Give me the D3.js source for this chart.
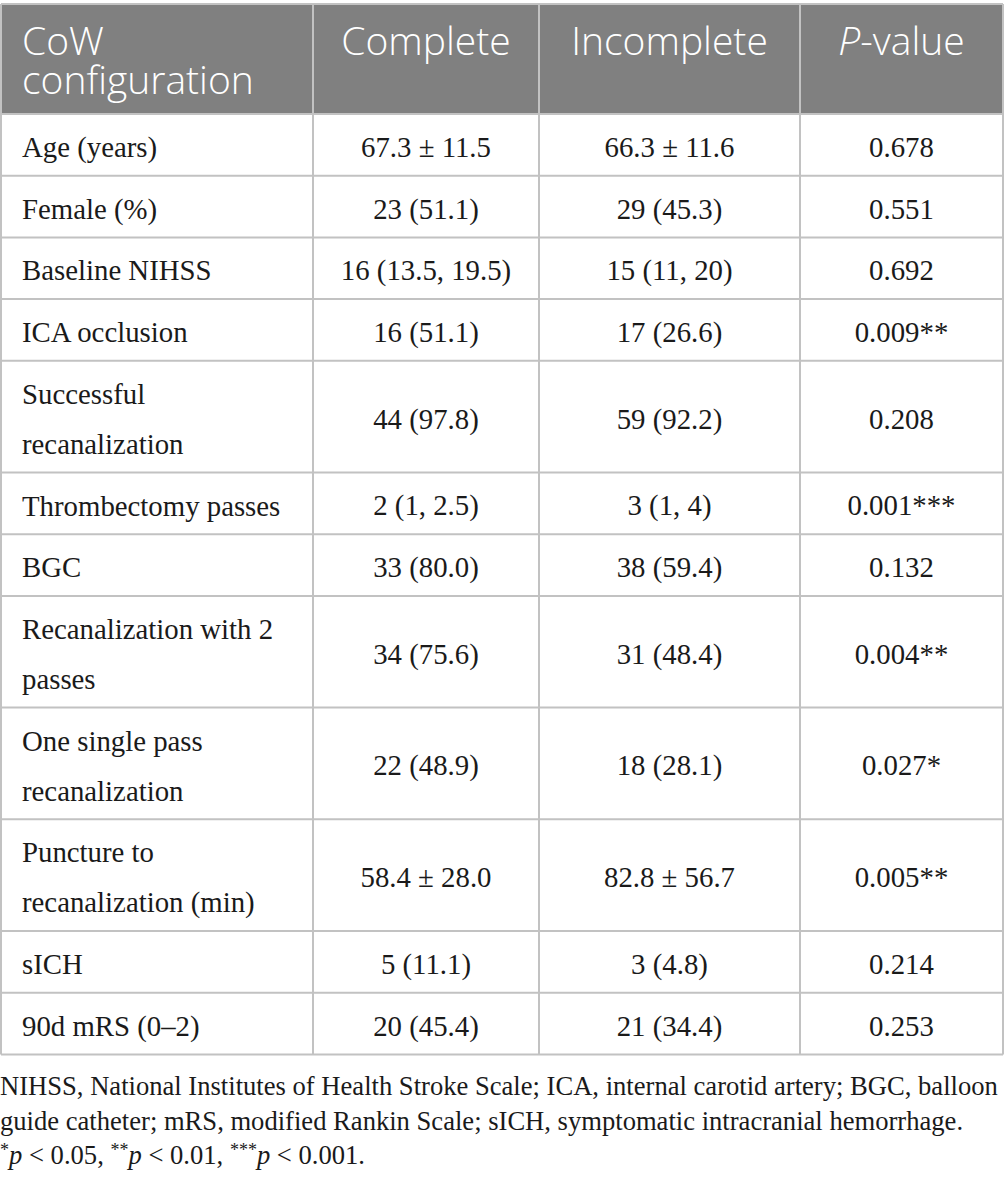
<!DOCTYPE html>
<html>
<head>
<meta charset="utf-8">
<script src="https://cdn.jsdelivr.net/npm/d3@7"></script>
<style>
  body { margin: 0; background: #fff; }
</style>
</head>
<body>
<script>

  // table content
  var headers = ["CoW configuration", "Complete", "Incomplete", "P-value"];
  var rowLabels = [
    "Age (years)", "Female (%)", "Baseline NIHSS", "ICA occlusion",
    "Successful recanalization", "Thrombectomy passes", "BGC",
    "Recanalization with 2 passes", "One single pass recanalization",
    "Puncture to recanalization (min)", "sICH", "90d mRS (0\u20132)"
  ];
  var completeVals = [
    "67.3 \u00b1 11.5", "23 (51.1)", "16 (13.5, 19.5)", "16 (51.1)",
    "44 (97.8)", "2 (1, 2.5)", "33 (80.0)", "34 (75.6)",
    "22 (48.9)", "58.4 \u00b1 28.0", "5 (11.1)", "20 (45.4)"
  ];
  var incompleteVals = [
    "66.3 \u00b1 11.6", "29 (45.3)", "15 (11, 20)", "17 (26.6)",
    "59 (92.2)", "3 (1, 4)", "38 (59.4)", "31 (48.4)",
    "18 (28.1)", "82.8 \u00b1 56.7", "3 (4.8)", "21 (34.4)"
  ];
  var pValues = [
    "0.678", "0.551", "0.692", "0.009**",
    "0.208", "0.001***", "0.132", "0.004**",
    "0.027*", "0.005**", "0.214", "0.253"
  ];
  var footLines = [
    "NIHSS, National Institutes of Health Stroke Scale; ICA, internal carotid artery; BGC, balloon",
    "guide catheter; mRS, modified Rankin Scale; sICH, symptomatic intracranial hemorrhage."
  ];

  var W = 1005, H = 1182;
  var colX = [1, 313, 539, 800, 1003];
  var tableTop = 4, headH = 110, lineH = 50, baseRowH = 61.7;
  var serif = "'Liberation Serif', 'Times New Roman', serif";
  var sans = "'Open Sans', 'Noto Sans', sans-serif";
  var gridColor = "#c2c2c2";
  var bodySize = 28.8;

  var svg = d3.select("body").append("svg")
    .attr("width", W)
    .attr("height", H);

  // wrap labels to fit first column
  var measure = svg.append("text")
    .attr("font-family", serif)
    .attr("font-size", bodySize);

  var wrap = function(str, maxW) {
    var words = str.split(" ");
    var lines = [], cur = "";
    words.forEach(function(w) {
      var test = cur ? cur + " " + w : w;
      measure.text(test);
      if (measure.node().getComputedTextLength() > maxW && cur) {
        lines.push(cur);
        cur = w;
      } else {
        cur = test;
      }
    });
    lines.push(cur);
    return lines;
  };

  var rows = rowLabels.map(function(lab, i) {
    return {
      lines: wrap(lab, 276),
      vals: [completeVals[i], incompleteVals[i], pValues[i]]
    };
  });
  measure.remove();

  var y = tableTop + headH;
  rows.forEach(function(r) {
    r.y = y;
    r.h = baseRowH + (r.lines.length - 1) * lineH;
    y += r.h;
  });
  var tableBottom = y;

  // header
  svg.append("rect")
    .attr("x", colX[0]).attr("y", tableTop)
    .attr("width", colX[4] - colX[0]).attr("height", headH)
    .attr("fill", "#808080");

  var head = svg.append("g")
    .attr("font-family", sans)
    .attr("font-size", 39)
    .attr("font-weight", 300)
    .attr("fill", "#fff");

  head.append("text")
    .attr("x", 22).attr("y", tableTop + 51)
    .text("CoW");
  head.append("text")
    .attr("x", 22).attr("y", tableTop + 90)
    .text("configuration");

  [1, 2].forEach(function(c) {
    head.append("text")
      .attr("x", (colX[c] + colX[c + 1]) / 2)
      .attr("y", tableTop + 51)
      .attr("text-anchor", "middle")
      .text(headers[c]);
  });
  var pv = head.append("text")
    .attr("x", (colX[3] + colX[4]) / 2)
    .attr("y", tableTop + 51)
    .attr("text-anchor", "middle");
  pv.append("tspan").attr("font-style", "italic").text("P");
  pv.append("tspan").text("-value");

  // body rows
  var body = svg.append("g")
    .attr("font-family", serif)
    .attr("font-size", bodySize)
    .attr("fill", "#1a1a1a");

  var rowG = body.selectAll("g.row")
    .data(rows)
    .enter().append("g")
    .attr("class", "row")
    .attr("transform", function(d) { return "translate(0," + d.y + ")"; });

  rowG.selectAll("text.lab")
    .data(function(d) { return d.lines; })
    .enter().append("text")
    .attr("class", "lab")
    .attr("x", 22)
    .attr("y", function(d, i) { return 43 + i * lineH; })
    .text(function(d) { return d; });

  rowG.each(function(d) {
    d3.select(this).selectAll("text.val")
      .data(d.vals)
      .enter().append("text")
      .attr("class", "val")
      .attr("x", function(v, i) { return (colX[i + 1] + colX[i + 2]) / 2; })
      .attr("y", d.h / 2 + 12)
      .attr("text-anchor", "middle")
      .text(function(v) { return v; });
  });

  // grid lines
  var grid = svg.append("g")
    .attr("stroke", gridColor)
    .attr("stroke-width", 2);

  var hy = [tableTop, tableTop + headH].concat(rows.map(function(r) { return r.y + r.h; }));
  grid.selectAll("line.h")
    .data(hy)
    .enter().append("line")
    .attr("x1", colX[0]).attr("x2", colX[4])
    .attr("y1", function(d) { return d; })
    .attr("y2", function(d) { return d; });

  grid.selectAll("line.v")
    .data(colX)
    .enter().append("line")
    .attr("x1", function(d) { return d; })
    .attr("x2", function(d) { return d; })
    .attr("y1", tableTop)
    .attr("y2", tableBottom);

  // footnote
  var foot = svg.append("g")
    .attr("font-family", serif)
    .attr("font-size", 26.6)
    .attr("fill", "#1a1a1a");

  footLines.forEach(function(t, i) {
    foot.append("text")
      .attr("x", 0)
      .attr("y", tableBottom + 41 + i * 34.5)
      .text(t);
  });

  var sig = foot.append("text")
    .attr("x", 0)
    .attr("y", tableBottom + 41 + 2 * 34.5);
  [["*", "0.05"], ["**", "0.01"], ["***", "0.001"]].forEach(function(p, i) {
    sig.append("tspan").attr("font-size", 18).attr("dy", -8).text(p[0]);
    sig.append("tspan").attr("font-style", "italic").attr("dy", 8).text("p");
    sig.append("tspan").text(" < " + p[1] + (i < 2 ? ", " : "."));
  });

</script>
</body>
</html>
